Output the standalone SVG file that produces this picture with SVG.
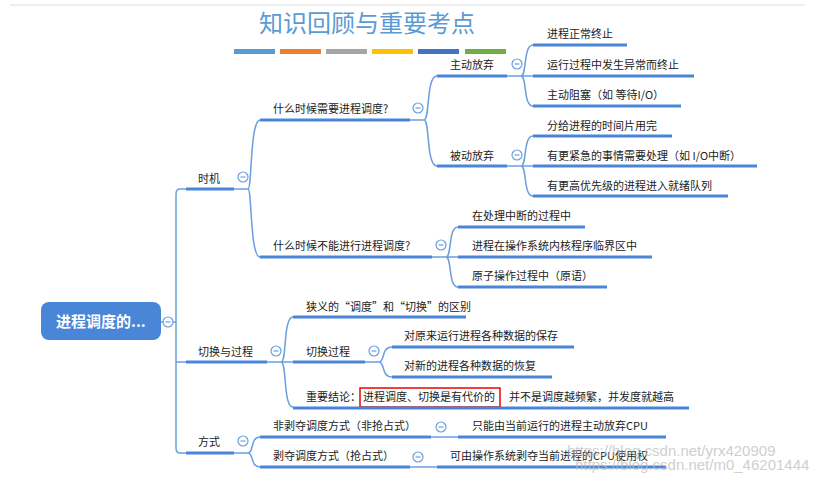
<svg xmlns="http://www.w3.org/2000/svg" width="832" height="482" viewBox="0 0 832 482">
<style>
text{font-family:"Noto Sans CJK SC","Liberation Sans",sans-serif;font-size:11px;fill:#222}
.u{stroke:#4a86d8;stroke-width:3;fill:none}
.c{stroke:#6a9ee0;stroke-width:1.5;fill:none}
.t{fill:#fff;stroke:#6a9ee0;stroke-width:1.2}
.wm{fill:#bbb;font-family:"Liberation Sans",sans-serif;font-size:15px;opacity:.7}
</style>
<defs>
<g id="col"><circle class="t" r="5"/><line x1="-2.5" x2="2.5" stroke="#6a9ee0" stroke-width="1.2"/></g>
</defs>
<rect width="832" height="482" fill="#fff"/>
<line x1="10" y1="5" x2="805" y2="5" stroke="#eee" stroke-width="2"/>
<g id="title">
<text x="367" y="32" text-anchor="middle" style="font-size:24px;fill:#5b9bd5;font-family:'Noto Sans CJK SC',sans-serif">知识回顾与重要考点</text>
<rect x="234" y="49" width="41" height="5" fill="#5b9bd5"/>
<rect x="280" y="49" width="41" height="5" fill="#ed7d31"/>
<rect x="326" y="49" width="41" height="5" fill="#a5a5a5"/>
<rect x="372" y="49" width="41" height="5" fill="#ffc000"/>
<rect x="418" y="49" width="41" height="5" fill="#4472c4"/>
<rect x="465" y="49" width="41" height="5" fill="#70ad47"/>
</g>
<g id="connectors">
<path class="c" d="M161,322 H176 M186,189 H180 Q176,189 176,194 V448 Q176,453 180,453 H186 M176,362 H186"/>
<path class="c" d="M234,189 H248 M248,189 C252,189 250,120 260,120 M248,189 C252,189 250,257 260,257"/>
<path class="c" d="M410,120 H424 C430,120 426,76 437,76 M424,120 C430,120 426,166 437,166"/>
<path class="c" d="M507,76 H521 C527,76 523,45 533,45 M521,76 H533 M521,76 C527,76 523,106 533,106"/>
<path class="c" d="M507,166 H521 C527,166 523,136 533,136 M521,166 H533 M521,166 C527,166 523,196 533,196"/>
<path class="c" d="M432,257 H446 C452,257 448,227 458,227 M446,257 H458 M446,257 C452,257 448,287 458,287"/>
<path class="c" d="M267,362 H281 C287,362 283,317 293,317 M281,362 H293 M281,362 C287,362 283,407 293,407"/>
<path class="c" d="M365,362 H379 C385,362 381,347 392,347 M379,362 C385,362 381,377 392,377"/>
<path class="c" d="M234,453 H248 C254,453 250,437 260,437 M248,453 C254,453 250,467 260,467"/>
<path class="c" d="M431,437 H458 M410,467 H437"/>
</g>
<g id="root"><rect x="41" y="302" width="120" height="38" rx="8" fill="#4a86d8"/><text x="56" y="327" style="fill:#fff;font-size:15px;font-weight:bold">进程调度的...</text><use href="#col" x="168" y="322"/></g>
<g id="n-shiji"><text x="198" y="183">时机</text><path class="u" d="M186,189 H234"/><use href="#col" x="243" y="177"/></g>
<g id="n-need"><text x="273" y="113">什么时候需要进程调度?</text><path class="u" d="M260,120 H410"/><use href="#col" x="418" y="108"/></g>
<g id="n-zd"><text x="450" y="69">主动放弃</text><path class="u" d="M437,76 H507"/><use href="#col" x="517" y="64"/></g>
<g id="n-zd1"><text x="547" y="38">进程正常终止</text><path class="u" d="M533,45 H627"/></g>
<g id="n-zd2"><text x="547" y="69">运行过程中发生异常而终止</text><path class="u" d="M533,76 H694"/></g>
<g id="n-zd3"><text x="547" y="99">主动阻塞（如 等待I/O）</text><path class="u" d="M533,106 H681"/></g>
<g id="n-bd"><text x="450" y="160">被动放弃</text><path class="u" d="M437,166 H507"/><use href="#col" x="517" y="155"/></g>
<g id="n-bd1"><text x="547" y="130">分给进程的时间片用完</text><path class="u" d="M533,136 H672"/></g>
<g id="n-bd2"><text x="547" y="160">有更紧急的事情需要处理（如 I/O中断）</text><path class="u" d="M533,166 H757"/></g>
<g id="n-bd3"><text x="547" y="190">有更高优先级的进程进入就绪队列</text><path class="u" d="M533,196 H728"/></g>
<g id="n-cannot"><text x="273" y="250">什么时候不能进行进程调度?</text><path class="u" d="M260,257 H432"/><use href="#col" x="441" y="245"/></g>
<g id="n-c1"><text x="472" y="220">在处理中断的过程中</text><path class="u" d="M458,227 H585"/></g>
<g id="n-c2"><text x="472" y="250">进程在操作系统内核程序临界区中</text><path class="u" d="M458,257 H652"/></g>
<g id="n-c3"><text x="472" y="280">原子操作过程中（原语）</text><path class="u" d="M458,287 H607"/></g>
<g id="n-qh"><text x="198" y="356">切换与过程</text><path class="u" d="M186,362 H267"/><use href="#col" x="276" y="351"/></g>
<g id="n-qh1"><text x="306" y="311">狭义的“调度”和“切换”的区别</text><path class="u" d="M293,317 H466"/></g>
<g id="n-qh2"><text x="306" y="356">切换过程</text><path class="u" d="M293,362 H365"/><use href="#col" x="374" y="351"/></g>
<g id="n-qh21"><text x="404" y="340">对原来运行进程各种数据的保存</text><path class="u" d="M392,347 H574"/></g>
<g id="n-qh22"><text x="404" y="370">对新的进程各种数据的恢复</text><path class="u" d="M392,377 H552"/></g>
<g id="n-qh3"><text x="306" y="401">重要结论：</text><rect x="360" y="388" width="140" height="19" fill="none" stroke="#e00" stroke-width="1.5"/><text x="363" y="401">进程调度、切换是有代价的</text><text x="509" y="401">并不是调度越频繁，并发度就越高</text><path class="u" d="M293,408 H689"/></g>
<g id="n-fs"><text x="198" y="446">方式</text><path class="u" d="M186,453 H234"/><use href="#col" x="243" y="441"/></g>
<g id="n-fs1"><text x="273" y="430">非剥夺调度方式（非抢占式）</text><path class="u" d="M260,437 H431"/><use href="#col" x="441" y="427"/></g>
<g id="n-fs11"><text x="472" y="430">只能由当前运行的进程主动放弃CPU</text><path class="u" d="M458,437 H666"/></g>
<g id="n-fs2"><text x="273" y="460">剥夺调度方式（抢占式）</text><path class="u" d="M260,467 H410"/><use href="#col" x="418" y="457"/></g>
<g id="n-fs21"><text x="450" y="460">可由操作系统剥夺当前进程的CPU使用权</text><path class="u" d="M437,467 H666"/></g>
<text class="wm" x="567" y="456">https://blog.csdn.net/yrx420909</text>
<text class="wm" x="575" y="470">https://blog.csdn.net/m0_46201444</text>
</svg>
